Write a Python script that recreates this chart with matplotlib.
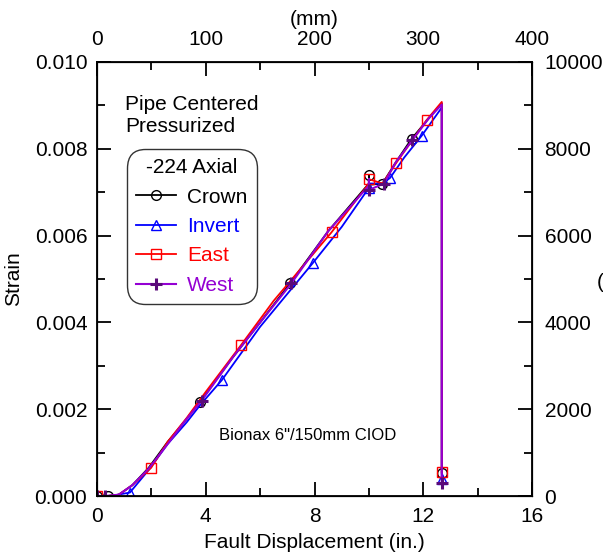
import matplotlib.pyplot as plt
from matplotlib.ticker import MultipleLocator

plt.rcParams['font.family'] = ['Liberation Sans', 'DejaVu Sans']

# displacement (in.) and strain readings for each gauge
crown_x = [0, 0.4, 0.8, 1.3, 1.9, 2.6, 3.2, 3.79, 5.0, 6.0, 7.1, 8.5, 10.0, 10.0, 10.0, 10.5, 11.0, 11.57, 12.2, 12.68, 12.68]
crown_y = [0, 0, 0.00003, 0.00025, 0.00065, 0.00125, 0.0017, 0.00217, 0.0032, 0.0040, 0.0049, 0.0061, 0.0072, 0.0074, 0.00717, 0.0072, 0.0077, 0.00823, 0.0087, 0.00905, 0.00052]
crown_mk = [0, 1, 7, 10, 13, 15, 17, 20]

invert_x = [0, 0.5, 1.21, 1.9, 2.6, 3.3, 3.8, 4.59, 6.0, 7.94, 9.0, 10.0, 10.0, 10.5, 10.78, 11.3, 11.94, 12.68, 12.68]
invert_y = [0, 0, 0.00008, 0.0006, 0.0012, 0.0017, 0.0021, 0.00267, 0.0039, 0.00537, 0.0062, 0.0071, 0.0072, 0.0072, 0.00733, 0.0078, 0.0083, 0.00895, 0.0004]
invert_mk = [2, 7, 9, 11, 14, 16, 18]

east_x = [0, 0.4, 0.8, 1.3, 1.99, 2.6, 3.3, 4.0, 5.3, 6.5, 8.63, 10.0, 10.0, 10.5, 11.0, 11.6, 12.12, 12.68, 12.68]
east_y = [0, 0, 0.00003, 0.00025, 0.00065, 0.00125, 0.0018, 0.0024, 0.00348, 0.0045, 0.00608, 0.0072, 0.0073, 0.0072, 0.00767, 0.0082, 0.00866, 0.00908, 0.00055]
east_mk = [0, 4, 8, 10, 12, 14, 16, 18]

west_x = [0, 0.3, 0.8, 1.3, 1.9, 2.6, 3.2, 3.85, 5.0, 6.0, 7.15, 8.5, 10.0, 10.0, 10.0, 10.55, 11.0, 11.6, 12.2, 12.68, 12.68]
west_y = [0, 0, 0.00003, 0.00025, 0.00063, 0.0012, 0.0017, 0.0022, 0.0032, 0.0040, 0.0049, 0.0061, 0.00715, 0.0073, 0.00705, 0.0072, 0.0077, 0.0082, 0.0087, 0.00902, 0.0003]
west_mk = [0, 1, 7, 10, 14, 15, 17, 20]

fig = plt.figure(figsize=(6.03, 5.59), dpi=100)
ax = fig.add_axes([0.1609, 0.1127, 0.7214, 0.7764])

fs = 15
ms = 7
ax.plot(crown_x, crown_y, color='black', lw=1.3, marker='o', ms=ms, mfc='none', mew=1.0, markevery=crown_mk, label='Crown')
ax.plot(invert_x, invert_y, color='blue', lw=1.3, marker='^', ms=ms, mfc='none', mew=1.0, markevery=invert_mk, label='Invert')
ax.plot(east_x, east_y, color='red', lw=1.3, marker='s', ms=ms, mfc='none', mew=1.0, markevery=east_mk, label='East')
ax.plot(west_x, west_y, color='#9400d3', lw=1.5, marker='+', ms=9, mew=2.2, mec='#5a0a7a', markevery=west_mk, label='West')

ax.set_xlim(0, 16)
ax.set_ylim(0, 0.010)
ax.xaxis.set_major_locator(MultipleLocator(4))
ax.xaxis.set_minor_locator(MultipleLocator(2))
ax.yaxis.set_major_locator(MultipleLocator(0.002))
ax.yaxis.set_minor_locator(MultipleLocator(0.001))
ax.yaxis.set_major_formatter(plt.FuncFormatter(lambda v, p: f'{v:.3f}'))
ax.tick_params(which='both', direction='in', labelsize=fs, width=1.3)
ax.tick_params(which='major', length=10)
ax.tick_params(which='minor', length=6)
ax.tick_params(axis='x', pad=8)
ax.tick_params(axis='y', pad=7)
for s in ax.spines.values():
    s.set_linewidth(1.3)

ax.set_xlabel('Fault Displacement (in.)', fontsize=fs, labelpad=5)
ax.set_ylabel('Strain', fontsize=fs, labelpad=8)

top = ax.twiny()
top.set_xlim(0, 400)
top.xaxis.set_major_locator(MultipleLocator(100))
top.xaxis.set_minor_locator(MultipleLocator(50))
top.tick_params(which='both', direction='in', labelsize=fs, width=1.3, pad=9)
top.tick_params(which='major', length=10)
top.tick_params(which='minor', length=6)
top.set_xlabel('(mm)', fontsize=fs, labelpad=4)

right = ax.twinx()
right.set_ylim(0, 10000)
right.yaxis.set_major_locator(MultipleLocator(2000))
right.yaxis.set_minor_locator(MultipleLocator(1000))
right.tick_params(which='both', direction='in', labelsize=fs, width=1.3, pad=9)
right.tick_params(which='major', length=10)
right.tick_params(which='minor', length=6)

fig.text(0.99, 0.494, '(με)', fontsize=fs, ha='left', va='center')

ax.text(0.065, 0.925, 'Pipe Centered\nPressurized', transform=ax.transAxes, fontsize=fs, va='top', linespacing=1.2)
ax.text(0.28, 0.13, 'Bionax 6"/150mm CIOD', transform=ax.transAxes, fontsize=12)

leg = ax.legend(title='-224 Axial', loc='upper left', bbox_to_anchor=(0.068, 0.80), fontsize=fs, title_fontsize=fs,
                frameon=True, fancybox=True, edgecolor='black', handlelength=1.9, handletextpad=0.55,
                labelspacing=0.5, borderpad=0.45, borderaxespad=0)
leg.get_frame().set_linewidth(1.0)
leg.get_frame().set_boxstyle('round', pad=0, rounding_size=0.9)
for t, c in zip(leg.get_texts(), ['black', 'blue', 'red', '#9400d3']):
    t.set_color(c)

fig.savefig('out.png', dpi=100)
